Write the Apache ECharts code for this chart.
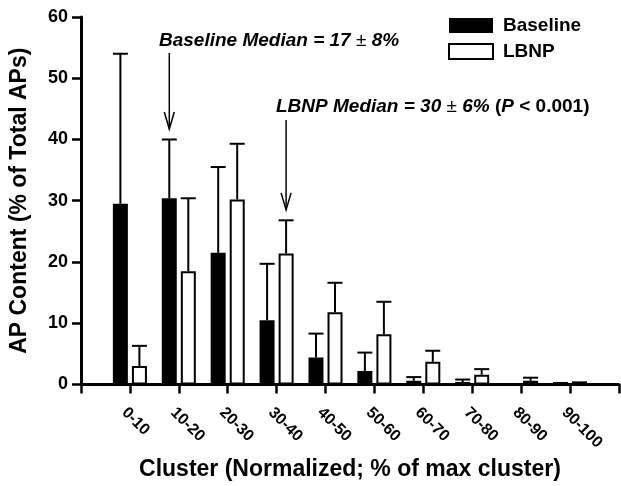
<!DOCTYPE html>
<html>
<head>
<meta charset="utf-8">
<script src="https://cdn.jsdelivr.net/npm/echarts@6/dist/echarts.min.js"></script>
<style>
  html, body { margin: 0; padding: 0; background: #fff; }
  #chart { width: 621px; height: 486px; }
</style>
</head>
<body>
<div id="chart"></div>
<script>
// 类别（两端留空位，对应坐标轴起止刻度）
const categories = ["", "0-10", "10-20", "20-30", "30-40", "40-50", "50-60", "60-70", "70-80", "80-90", "90-100", ""];
// 均值
const baselineMean = [null, 29.5, 30.4, 21.5, 10.5, 4.4, 2.2, 0.6, 0.4, 0, 0.4, null];
const lbnpMean = [null, 3.0, 18.5, 30.2, 21.4, 11.8, 8.2, 3.7, 1.6, 0.6, 0.5, null];
// 误差（向上）
const baselineErr = [null, 24.5, 9.6, 14.0, 9.2, 3.9, 3.0, 0.6, 0.4, 0, 0, null];
const lbnpErr = [null, 3.3, 11.9, 9.1, 5.4, 4.8, 5.3, 1.8, 0.9, 0.5, 0, null];
const yTicks = { min: 0, max: 60, interval: 10 };

const FONT = "Liberation Sans, Arial, sans-serif";
const myChart = echarts.init(document.getElementById("chart"));

function errorItem(offset) {
  return function (params, api) {
    const mean = api.value(1);
    const err = api.value(2);
    if (!err) return null;
    const base = api.coord([api.value(0), mean]);
    const top = api.coord([api.value(0), mean + err]);
    const cx = base[0] + offset;
    const style = { stroke: "#000", lineWidth: 2 };
    return {
      type: "group",
      children: [
        { type: "line", shape: { x1: cx, y1: base[1], x2: cx, y2: top[1] }, style: style },
        { type: "line", shape: { x1: cx - 7.5, y1: top[1], x2: cx + 7.5, y2: top[1] }, style: style }
      ]
    };
  };
}

function errData(mean, err) {
  return mean.map((m, i) => [i, m, err[i]]);
}

let option = {
  animation: false,
  textStyle: { fontFamily: FONT },
  grid: { left: 80, right: -1, top: 17, bottom: 98.5 },
  legend: {
    orient: "vertical",
    left: 443,
    top: 11,
    itemWidth: 44,
    itemHeight: 15,
    itemGap: 7,
    icon: "rect",
    data: ["Baseline", "LBNP"],
    textStyle: { fontSize: 19, fontWeight: "bold", color: "#000", fontFamily: FONT, padding: [0, 0, 0, 5] }
  },
  xAxis: {
    type: "category",
    data: categories,
    boundaryGap: false,
    name: "Cluster (Normalized; % of max cluster)",
    nameLocation: "middle",
    nameGap: 73,
    nameTextStyle: { fontSize: 23, fontWeight: "bold", color: "#000", fontFamily: FONT },
    axisLine: { lineStyle: { color: "#000", width: 3 } },
    axisTick: { show: true, interval: 0, length: 9, lineStyle: { color: "#000", width: 2.5 } },
    axisLabel: {
      interval: 0,
      rotate: -45,
      align: "left",
      verticalAlign: "top",
      margin: 20,
      fontSize: 16,
      fontWeight: "bold",
      color: "#000",
      fontFamily: FONT
    },
    splitLine: { show: false }
  },
  yAxis: {
    type: "value",
    min: yTicks.min,
    max: yTicks.max,
    interval: yTicks.interval,
    name: "AP Content (% of Total APs)",
    nameLocation: "middle",
    nameGap: 50,
    nameTextStyle: { fontSize: 23, fontWeight: "bold", color: "#000", fontFamily: FONT },
    axisLine: { show: true, lineStyle: { color: "#000", width: 3 } },
    axisTick: { show: true, length: 9, lineStyle: { color: "#000", width: 2.5 } },
    axisLabel: { margin: 13, fontSize: 18, fontWeight: "bold", color: "#000", fontFamily: FONT },
    splitLine: { show: false }
  },
  series: [
    {
      name: "Baseline",
      type: "bar",
      data: baselineMean,
      barWidth: 15,
      barGap: "27%",
      itemStyle: { color: "#000", borderColor: "#000", borderWidth: 0 }
    },
    {
      name: "LBNP",
      type: "bar",
      data: lbnpMean,
      barWidth: 15,
      itemStyle: { color: "#fff", borderColor: "#000", borderWidth: 2 }
    },
    {
      type: "custom",
      renderItem: errorItem(-9.5),
      data: errData(baselineMean, baselineErr),
      z: 3
    },
    {
      type: "custom",
      renderItem: errorItem(9.5),
      data: errData(lbnpMean, lbnpErr),
      z: 3
    }
  ]
};
option && myChart.setOption(option);

// 注释文字与箭头
const baseTip = myChart.convertToPixel({ gridIndex: 0 }, [2, baselineMean[2] + baselineErr[2] + 1.7]);
const lbnpTip = myChart.convertToPixel({ gridIndex: 0 }, [4, lbnpMean[4] + lbnpErr[4] + 1.7]);

function arrow(x, y1, y2) {
  const s = { stroke: "#000", lineWidth: 1.5, fill: null };
  return [
    { type: "line", shape: { x1: x, y1: y1, x2: x, y2: y2 }, style: s },
    { type: "polyline", shape: { points: [[x - 5, y2 - 17], [x, y2], [x + 5, y2 - 17]] }, style: s }
  ];
}

const richStyle = {
  a: { fontSize: 19, fontWeight: "bold", fontStyle: "italic", fill: "#000", fontFamily: FONT },
  b: { fontSize: 19, fontWeight: "normal", fontStyle: "normal", fill: "#000", fontFamily: FONT },
  c: { fontSize: 19, fontWeight: "bold", fontStyle: "normal", fill: "#000", fontFamily: FONT }
};

myChart.setOption({
  graphic: [
    {
      type: "text",
      left: 159,
      top: 31,
      style: { text: "{a|Baseline Median = 17 }{b|±}{a| 8%}", rich: richStyle }
    },
    {
      type: "text",
      left: 276,
      top: 97,
      style: { text: "{a|LBNP Median = 30 }{b|±}{a| 6% }{c|(}{a|P}{c| < 0.001)}", rich: richStyle }
    }
  ].concat(arrow(baseTip[0] - 9.5, 53, baseTip[1]), arrow(lbnpTip[0] + 9.5, 120, lbnpTip[1]))
});

window.addEventListener("resize", () => {
  myChart.resize();
});
</script>
</body>
</html>
